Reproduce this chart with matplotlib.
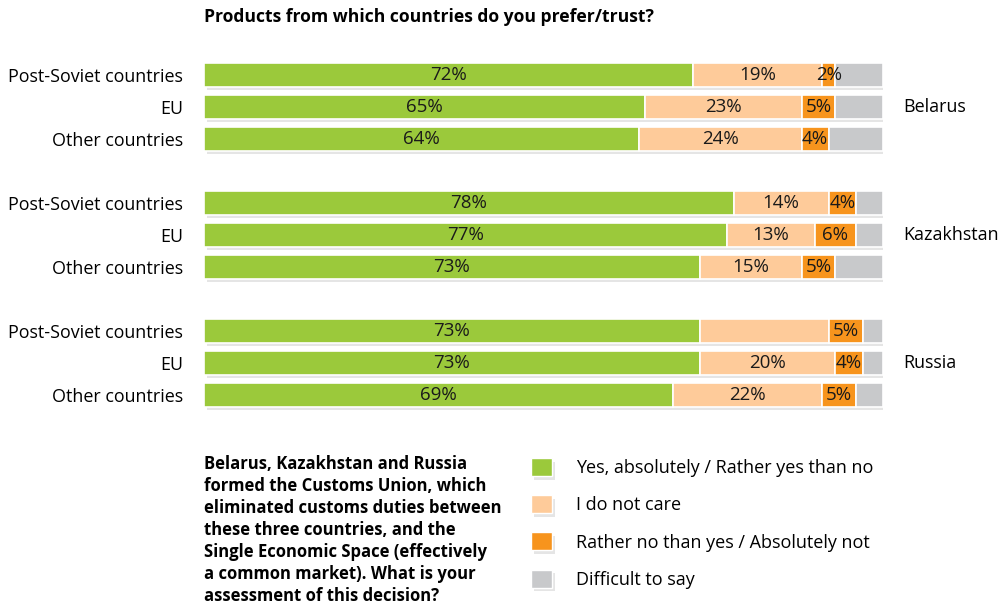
import matplotlib
matplotlib.use("Agg")
from matplotlib import pyplot as plt
from matplotlib import patheffects as pe
from matplotlib.patches import Patch

plt.rcParams['font.family'] = ['Open Sans', 'DejaVu Sans']

countries = ["Belarus", "Kazakhstan", "Russia"]
sources = ["Post-Soviet countries", "EU", "Other countries"]

# values per row: Belarus x3, Kazakhstan x3, Russia x3
yes_vals = [72, 65, 64, 78, 77, 73, 73, 73, 69]
care_vals = [19, 23, 24, 14, 13, 15, 19, 20, 22]
no_vals = [2, 5, 4, 4, 6, 5, 5, 4, 5]
hard_vals = [7, 7, 8, 4, 4, 7, 3, 3, 4]
# which "I do not care" values are printed on the chart
care_shown = [True, True, True, True, True, True, False, True, True]

series_names = ["Yes, absolutely / Rather yes than no", "I do not care",
                "Rather no than yes / Absolutely not", "Difficult to say"]
colors = ["#9bc93b", "#fecb9a", "#f7941d", "#c8c9cb"]

title = "Products from which countries do you prefer/trust?"
note = ("Belarus, Kazakhstan and Russia\n"
        "formed the Customs Union, which\n"
        "eliminated customs duties between\n"
        "these three countries, and the\n"
        "Single Economic Space (effectively\n"
        "a common market). What is your\n"
        "assessment of this decision?")

W, H = 1002, 608
fig = plt.figure(figsize=(W / 100, H / 100), dpi=100)
ax = fig.add_axes([204 / W, 197 / H, 679 / W, 352 / H])

# row positions: 3 bars per country then one empty slot
ypos = []
for g in range(len(countries)):
    for k in range(len(sources)):
        ypos.append(g * 4 + k)

shadow = [pe.SimplePatchShadow(offset=(2, -2.5), shadow_rgbFace="#aaaaaa", alpha=0.3),
          pe.Normal()]

series = [yes_vals, care_vals, no_vals, hard_vals]
lefts = [0] * len(ypos)
for s, vals in enumerate(series):
    bars = ax.barh(ypos, vals, left=lefts, height=0.72, color=colors[s],
                   edgecolor="white", linewidth=1.2, zorder=2)
    for b in bars:
        b.set_path_effects(shadow)
    for i, v in enumerate(vals):
        show = s < 3 and (s != 1 or care_shown[i])
        if show:
            ax.text(lefts[i] + v / 2, ypos[i], f"{v}%", ha="center", va="center",
                    fontsize=13.5, color="#1a1a1a", zorder=3)
    lefts = [l + v for l, v in zip(lefts, vals)]

ax.set_xlim(0, 100)
ax.set_ylim(10.5, -0.5)
ax.set_yticks(ypos)
ax.set_yticklabels(sources * len(countries), fontsize=12.9)
ax.tick_params(axis="y", length=0, pad=15)
ax.tick_params(axis="x", bottom=False, labelbottom=False)
for sp in ax.spines.values():
    sp.set_visible(False)

for g, c in enumerate(countries):
    ax.text(1 + 20 / 679, g * 4 + 1, c, transform=ax.get_yaxis_transform(),
            ha="left", va="center", fontsize=12.9)

fig.text(204 / W, 1 - 17 / H, title, ha="left", va="center",
         fontsize=12.6, fontweight="bold")
fig.text(204 / W, 1 - 455 / H, note, ha="left", va="top",
         fontsize=12, fontweight="bold", linespacing=1.28)

handles = [Patch(facecolor=c, edgecolor="white", path_effects=shadow) for c in colors]
fig.legend(handles, series_names, loc="upper left",
           bbox_to_anchor=(524 / W, 1 - 451 / H), frameon=False,
           fontsize=13, handlelength=1.15, handleheight=1.15,
           labelspacing=1.0, handletextpad=1.34, borderaxespad=0)

fig.savefig("out.png", dpi=100)
